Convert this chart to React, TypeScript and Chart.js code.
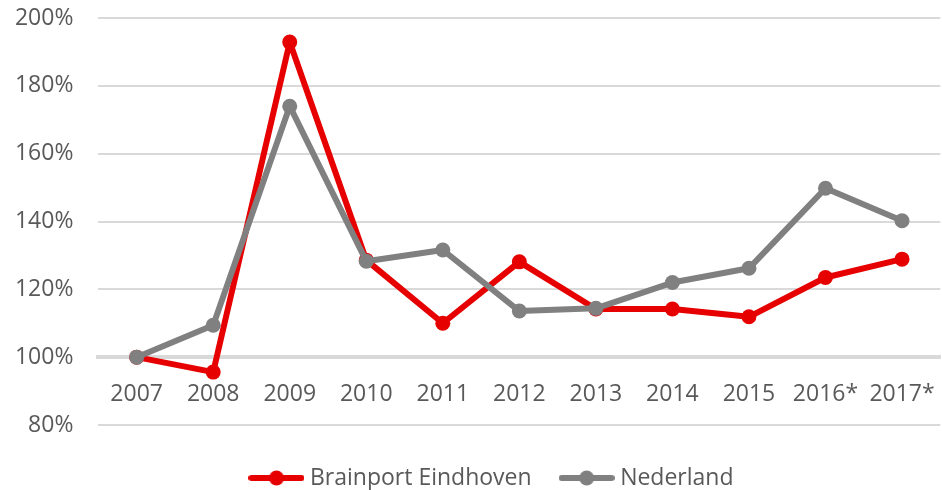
import React, { useEffect, useRef } from 'react';
import { Chart, registerables } from 'chart.js';

Chart.register(...registerables);

const categories = ['2007', '2008', '2009', '2010', '2011', '2012', '2013', '2014', '2015', '2016*', '2017*'];
const brainport = [100, 95.6, 192.9, 128.6, 110.0, 128.1, 114.2, 114.2, 111.9, 123.5, 128.9];
const nederland = [100, 109.4, 174.0, 128.3, 131.6, 113.6, 114.4, 122.0, 126.2, 149.8, 140.2];
const yTicks = [80, 100, 120, 140, 160, 180, 200];
const seriesNames = ['Brainport Eindhoven', 'Nederland'];

const RED = '#e60000';
const GRAY = '#808080';
const TEXT = '#595959';
const GRID = '#d9d9d9';
const FONT_SIZE = 23;

function makeLegendMarker(color: string): HTMLCanvasElement {
  const c = document.createElement('canvas');
  c.width = 56;
  c.height = 16;
  const ctx = c.getContext('2d')!;
  ctx.strokeStyle = color;
  ctx.lineWidth = 6;
  ctx.lineCap = 'round';
  ctx.beginPath();
  ctx.moveTo(3, 8);
  ctx.lineTo(53, 8);
  ctx.stroke();
  ctx.fillStyle = color;
  ctx.beginPath();
  ctx.arc(28, 8, 7.5, 0, Math.PI * 2);
  ctx.fill();
  return c;
}

const legendShift = {
  id: 'legendShift',
  afterLayout(chart: any) {
    const l = chart.legend;
    if (l) {
      l.left += 14.7;
      l.right += 14.7;
      l.top += 8.5;
      l.bottom += 8.5;
    }
  },
};

export default function App() {
  const ref = useRef<HTMLCanvasElement>(null);

  useEffect(() => {
    const canvas = ref.current;
    if (!canvas) return;
    const markers = [makeLegendMarker(RED), makeLegendMarker(GRAY)];
    Chart.defaults.font.family = '"Open Sans", sans-serif';
    Chart.defaults.font.size = FONT_SIZE;
    Chart.defaults.color = TEXT;

    const chart = new Chart(canvas, {
      type: 'line',
      data: {
        labels: categories,
        datasets: [
          {
            label: seriesNames[0],
            data: brainport,
            borderColor: RED,
            backgroundColor: RED,
            borderWidth: 6,
            borderJoinStyle: 'round',
            pointRadius: 7.5,
            pointBackgroundColor: RED,
            pointBorderColor: RED,
            pointBorderWidth: 0,
            tension: 0,
            order: 1,
          },
          {
            label: seriesNames[1],
            data: nederland,
            borderColor: GRAY,
            backgroundColor: GRAY,
            borderWidth: 6,
            borderJoinStyle: 'round',
            pointRadius: 7.5,
            pointBackgroundColor: GRAY,
            pointBorderColor: GRAY,
            pointBorderWidth: 0,
            tension: 0,
            order: 0,
          },
        ],
      },
      plugins: [legendShift],
      options: {
        animation: false,
        responsive: false,
        devicePixelRatio: 1,
        layout: { padding: { left: 10, right: 1.4, top: 18, bottom: 0 } },
        scales: {
          x: {
            type: 'category',
            offset: true,
            position: { y: 100 } as any,
            afterFit: (scale: any) => {
              scale.height = 0;
            },
            grid: { display: false },
            border: { display: true, color: GRID, width: 4 },
            ticks: { padding: 15, color: TEXT, font: { size: FONT_SIZE }, maxRotation: 0, autoSkip: false },
          },
          y: {
            type: 'linear',
            min: yTicks[0],
            max: yTicks[yTicks.length - 1],
            afterBuildTicks: (scale: any) => {
              scale.ticks = yTicks.map((v) => ({ value: v }));
            },
            afterFit: (scale: any) => {
              scale.width = 88.4;
              scale.paddingTop = 0;
              scale.paddingBottom = 0;
            },
            grid: { color: GRID, lineWidth: 2, drawTicks: false },
            border: { display: false },
            ticks: {
              padding: 25,
              color: TEXT,
              font: { size: FONT_SIZE },
              callback: (v: any) => v + '%',
            },
          },
        },
        plugins: {
          tooltip: { enabled: false },
          legend: {
            position: 'bottom',
            labels: {
              usePointStyle: true,
              pointStyleWidth: 44,
              padding: 33,
              color: TEXT,
              font: { size: FONT_SIZE },
              sort: (a: any, b: any) => a.datasetIndex - b.datasetIndex,
              generateLabels: (ch: any) => {
                const items = (Chart.defaults.plugins.legend.labels as any).generateLabels(ch);
                return items.map((it: any) => ({ ...it, pointStyle: markers[it.datasetIndex] }));
              },
            },
          },
        },
      },
    });
    return () => chart.destroy();
  }, []);

  return (
    <canvas
      ref={ref}
      width={950}
      height={491}
      style={{ position: 'fixed', left: 0, top: 0, display: 'block' }}
    />
  );
}
